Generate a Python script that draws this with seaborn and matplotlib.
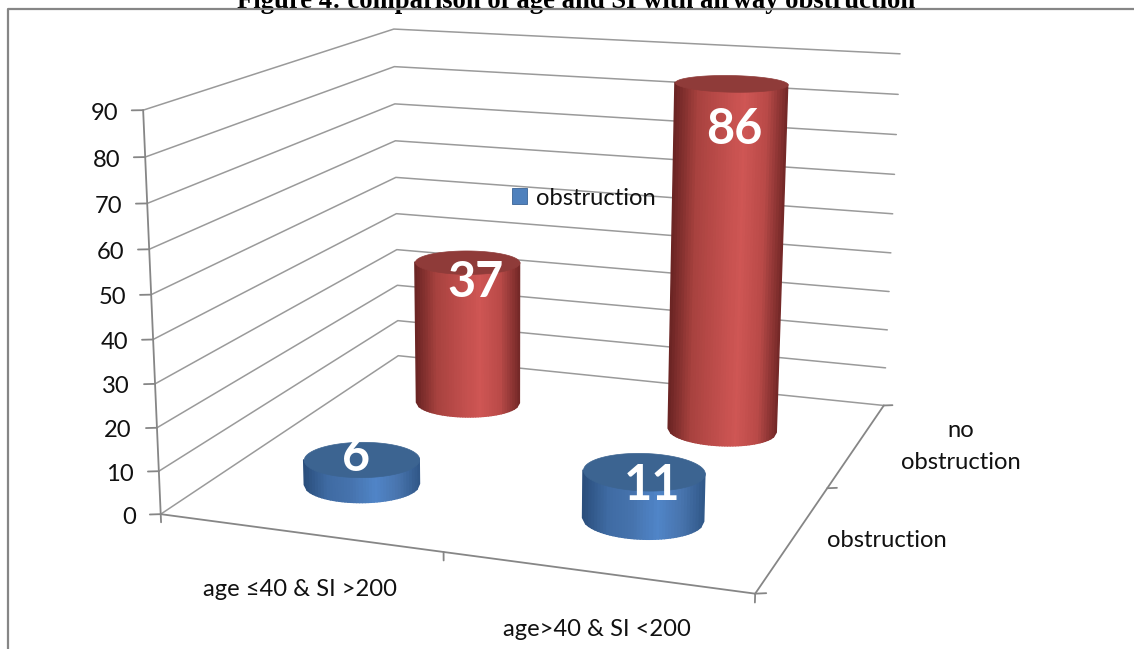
import numpy as np
import matplotlib
matplotlib.use("Agg")
import matplotlib.pyplot as plt
from matplotlib.lines import Line2D
from matplotlib.patches import Patch
from mpl_toolkits.mplot3d.art3d import Poly3DCollection
import seaborn as sns

# ---- data -------------------------------------------------------------
categories = ["age ≤40 & SI >200", "age>40 & SI <200"]
series_names = ["obstruction", "no\nobstruction"]
obstruction = [6, 11]
no_obstruction = [37, 86]
z_ticks = list(range(0, 100, 10))
title = "Figure 4: comparison of age and SI with airway obstruction"

# ---- style ------------------------------------------------------------
W, H = 1134, 649
sns.set_theme(style="white")
plt.rcParams["font.family"] = ["Lato", "DejaVu Sans"]
INK = "#111111"; AXIS = "#868686"; GRID = "#9a9a9a"
FS = 17.1
blue_shades = sns.blend_palette(["#2b4f7d", "#3f6ba3", "#4673ad", "#5085c8", "#4874ad", "#2e5585"], as_cmap=True)
red_shades = sns.blend_palette(["#6c2524", "#a8423f", "#bc4c4a", "#cf5654", "#b94a48", "#6c2524"], as_cmap=True)
BLUE_TOP, RED_TOP = "#3c6491", "#8f3b39"
BLUE_KEY = "#4f81bd"

# ---- camera: chart space (category, series, value) to image pixels ----
XL, YL, ZL = (-0.5, 1.5), (-0.5, 1.5), (0, 90)
world = np.array([[XL[0], YL[0], 0], [XL[1], YL[0], 0], [XL[1], YL[1], 0], [XL[0], YL[1], 0],
                  [XL[0], YL[0], 90], [XL[0], YL[1], 90], [XL[1], YL[1], 90]], float)
image = np.array([[161, 514], [755, 594], [884, 405], [398, 356],
                  [143, 110], [394, 29], [900, 54]], float)

def fit_camera(X, u):
    Sw = np.diag([1, 1, 1 / 90, 1.0]); Si = np.diag([1e-3, 1e-3, 1.0])
    rows = []
    for p, q in zip(X, u):
        h = Sw @ np.r_[p, 1]; a, b = q * 1e-3
        rows.append(np.r_[h, np.zeros(4), -a * h])
        rows.append(np.r_[np.zeros(4), h, -b * h])
    v = np.linalg.svd(np.array(rows))[2][-1].reshape(3, 4)
    P = np.linalg.inv(Si) @ v @ Sw
    return P / (P[2] @ np.array([0.5, 0.5, 0, 1]))

CAM = fit_camera(world, image)

def px(x, y, z):
    q = CAM @ np.vstack([np.ravel(x), np.ravel(y), np.ravel(z), np.ones(np.size(x))])
    return q[0] / q[2], q[1] / q[2]

def label(x, y, z, dx, dy, text, **kw):
    a, b = px(x, y, z)
    fig.text((a[0] + dx) / W, 1 - (b[0] + dy) / H, text, ha=kw.pop("ha", "center"),
             va=kw.pop("va", "center"), **kw)

fig = plt.figure(figsize=(W / 100, H / 100), dpi=100, facecolor="white")
ax = fig.add_axes([0, -(W - H) / 2 / H, 1, W / H], projection="3d", computed_zorder=False)
ax.set_axis_off()

def camera_proj():
    ax.apply_aspect()
    flip = np.array([[1, 0, 0], [0, -1, H], [0, 0, 1.0]])
    T = ax.transData.inverted().get_matrix() @ flip @ CAM
    return np.vstack([T[0], T[1], T[2] - np.array([0, 0, 0, 5.0]), T[2]])

ax.get_proj = camera_proj

# ---- walls, floor and ticks -------------------------------------------
for z in z_ticks:
    ax.plot([XL[0], XL[0], XL[1]], [YL[0], YL[1], YL[1]], [z, z, z], color=GRID, lw=1.1, zorder=1)
    ax.plot([XL[0], XL[0] - 0.032], [YL[0], YL[0] - 0.015], [z, z], color=AXIS, lw=1.3, zorder=2)
    label(XL[0], YL[0], z, -25, 3, str(z), fontsize=FS, color=INK, ha="right")
ax.plot([XL[0]] * 2, [YL[0]] * 2, ZL, color=AXIS, lw=1.3, zorder=2)
ax.plot(XL, [YL[0]] * 2, [0, 0], color=AXIS, lw=1.3, zorder=2)
ax.plot([XL[1]] * 2, YL, [0, 0], color=AXIS, lw=1.3, zorder=2)
for x in (-0.5, 0.5, 1.5):
    ax.plot([x, x], [YL[0]] * 2, [0, -1.9], color=AXIS, lw=1.3, zorder=2)
for y in (-0.5, 0.5, 1.5):
    ax.plot([XL[1], XL[1] + 0.03], [y, y + 0.015], [0, 0], color=AXIS, lw=1.3, zorder=2)

# ---- cylinders --------------------------------------------------------
def cylinder(x0, y0, value, shades, top, rx=0.198, ry=0.185, order=5):
    t = np.linspace(0, 2 * np.pi, 181)
    Xc = x0 + rx * np.cos(t); Yc = y0 + ry * np.sin(t)
    a = px(Xc, Yc, np.zeros_like(t))[0]
    # only the half of the side that faces the viewer, in even screen-width strips
    t0 = t[np.argmin(a)]
    if t0 > np.pi:
        t0 -= 2 * np.pi
    t1 = t[np.argmax(a)]
    if t1 < t0:
        t1 += 2 * np.pi
    u = np.linspace(-1, 1, 41)
    tv = t0 + (t1 - t0) * np.arccos(-u) / np.pi
    if np.sin(tv[20]) > 0:
        t1 = t1 - 2 * np.pi
        tv = t0 + (t1 - t0) * np.arccos(-u) / np.pi
    X = np.vstack([x0 + rx * np.cos(tv)] * 2)
    Y = np.vstack([y0 + ry * np.sin(tv)] * 2)
    Z = np.vstack([np.zeros_like(tv), np.full_like(tv, float(value))])
    b = px(X[0], Y[0], Z[0])[0]
    s = (b - b.min()) / (b.max() - b.min())
    side = ax.plot_surface(X, Y, Z, facecolors=shades(s)[None, :-1], rstride=1, cstride=1,
                           shade=False, linewidth=1.1, zorder=order)
    side.set_snap(False)
    ax.add_collection3d(Poly3DCollection([np.c_[Xc, Yc, np.full_like(t, float(value))]], facecolors=top,
                                         edgecolors=top, linewidth=0.5, zorder=order + 1))

label_offset_red = [(8, 21), (3, 46)]
label_offset_blue = [(-5, -3), (8, 14)]
for i in range(2):
    cylinder(i, 1, no_obstruction[i], red_shades, RED_TOP, order=5)
for i in range(2):
    cylinder(i, 0, obstruction[i], blue_shades, BLUE_TOP, order=8)
for i in range(2):
    label(i, 1, no_obstruction[i], *label_offset_red[i], str(no_obstruction[i]),
          fontsize=35, fontweight="bold", color="white")
    label(i, 0, obstruction[i], *label_offset_blue[i], str(obstruction[i]),
          fontsize=35, fontweight="bold", color="white")

# ---- axis labels ------------------------------------------------------
for i, c in enumerate(categories):
    label(i, YL[0], 0, 1, 57, c, fontsize=FS, color=INK)
label(XL[1], 0, 0, 93, 3, series_names[0], fontsize=FS, color=INK)
label(XL[1], 1, 0, 104, 2, series_names[1], fontsize=FS, color=INK, linespacing=1.6)

# ---- legend, title, frame ---------------------------------------------
fig.legend(handles=[Patch(facecolor=BLUE_KEY, edgecolor="#3a6496", linewidth=0.6)], labels=[series_names[0]],
           frameon=False, loc="center", bbox_to_anchor=(584 / W, 1 - 198 / H), fontsize=FS,
           handlelength=0.62, handleheight=0.62, handletextpad=0.38, labelcolor=INK)
fig.text(576 / W, 1 - 1 / H, title, family="Liberation Serif", fontweight="bold", fontsize=19.2,
         ha="center", va="center", color="black")
fig.add_artist(Line2D([8 / W, 8 / W, 1], [0, 1 - 9 / H, 1 - 9 / H], color=AXIS, lw=1.6,
                      transform=fig.transFigure, zorder=10))

fig.savefig("out.png", dpi=100)
